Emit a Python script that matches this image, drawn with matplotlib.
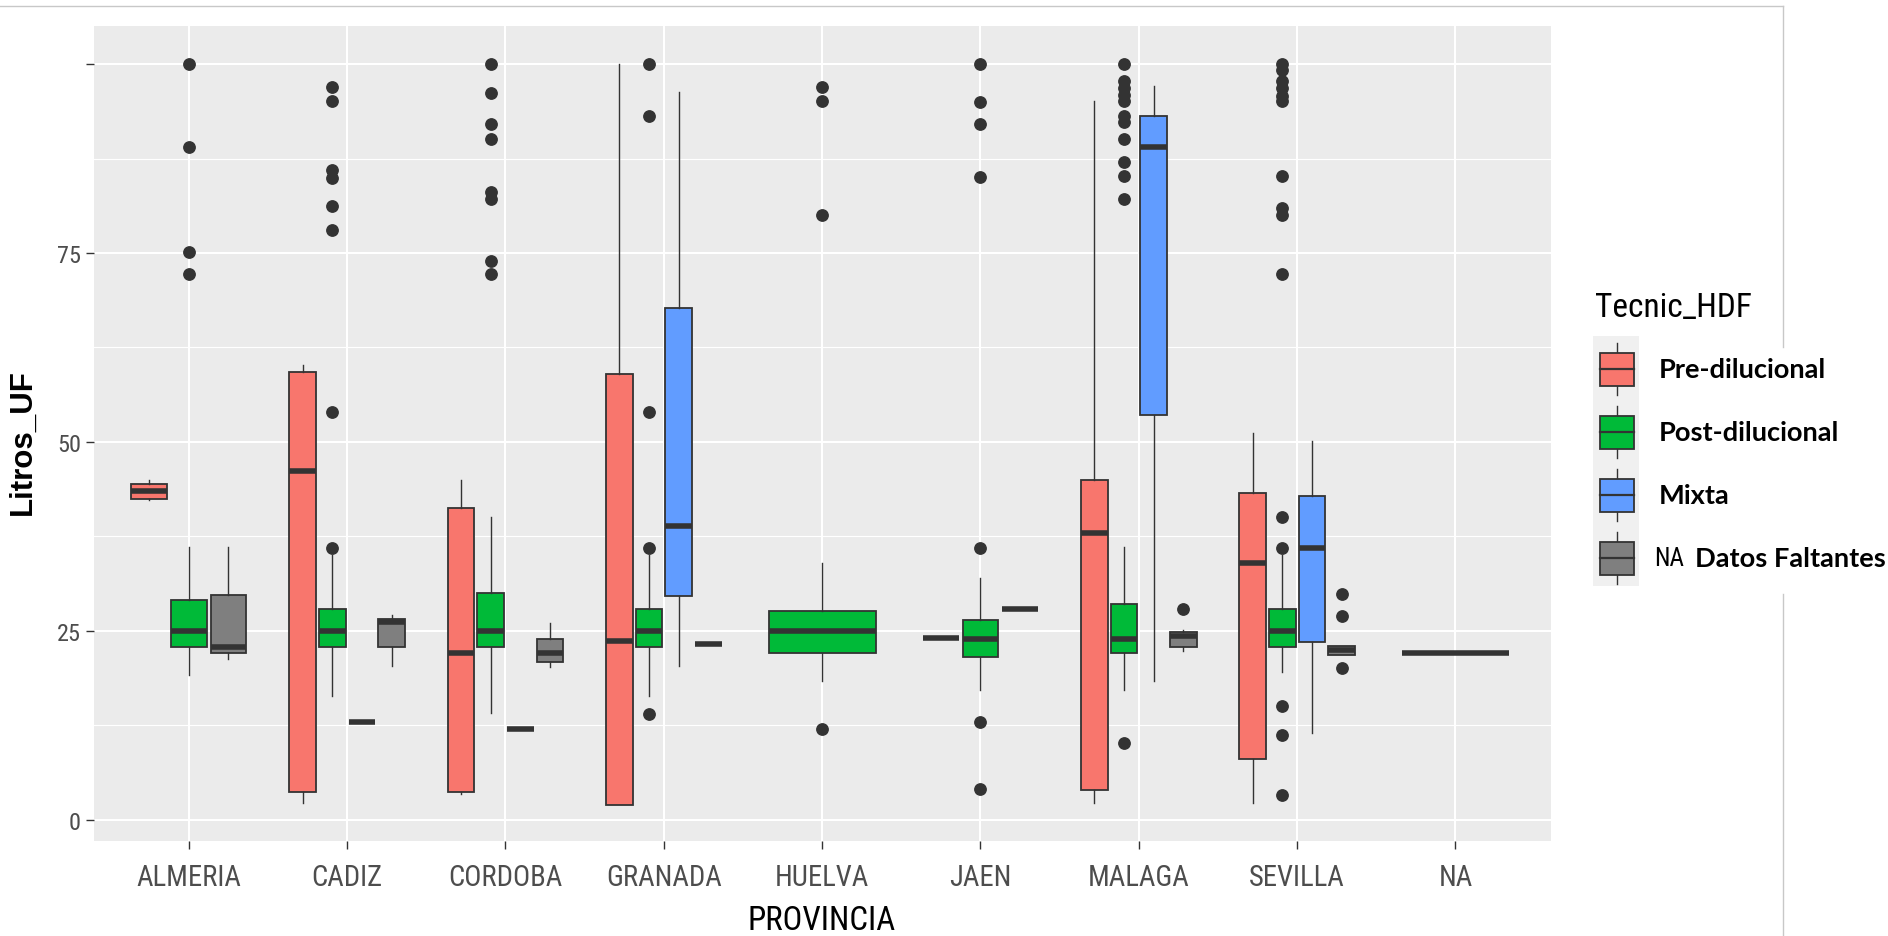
import matplotlib
matplotlib.use("Agg")
import matplotlib.pyplot as plt
from matplotlib import font_manager as fm
from matplotlib.font_manager import FontProperties
from matplotlib.textpath import TextToPath
from matplotlib.patches import Rectangle
from matplotlib.lines import Line2D

# ---------------- data ----------------
provincias = ["ALMERIA", "CADIZ", "CORDOBA", "GRANADA", "HUELVA",
              "JAEN", "MALAGA", "SEVILLA", "NA"]
tecnicas = ["Pre-dilucional", "Post-dilucional", "Mixta", "NA"]
tec_colors = ["#F8766D", "#00BA38", "#619CFF", "#7F7F7F"]

box_prov = ["ALMERIA", "ALMERIA", "ALMERIA",
            "CADIZ", "CADIZ", "CADIZ", "CADIZ",
            "CORDOBA", "CORDOBA", "CORDOBA", "CORDOBA",
            "GRANADA", "GRANADA", "GRANADA", "GRANADA",
            "HUELVA",
            "JAEN", "JAEN", "JAEN",
            "MALAGA", "MALAGA", "MALAGA", "MALAGA",
            "SEVILLA", "SEVILLA", "SEVILLA", "SEVILLA",
            "NA"]
box_tec = ["Pre-dilucional", "Post-dilucional", "NA",
           "Pre-dilucional", "Post-dilucional", "Mixta", "NA",
           "Pre-dilucional", "Post-dilucional", "Mixta", "NA",
           "Pre-dilucional", "Post-dilucional", "Mixta", "NA",
           "Post-dilucional",
           "Pre-dilucional", "Post-dilucional", "NA",
           "Pre-dilucional", "Post-dilucional", "Mixta", "NA",
           "Pre-dilucional", "Post-dilucional", "Mixta", "NA",
           "NA"]
box_whislo = [42.3, 19.1, 21.2,
              2.2, 16.3, 12.9, 20.3,
              3.4, 14.1, 12.0, 20.2,
              1.9, 16.3, 20.3, 23.2,
              18.3,
              24.0, 17.2, 27.9,
              2.2, 17.2, 18.3, 22.3,
              2.2, 19.6, 11.4, 21.8,
              22.1]
box_q1 = [42.5, 22.9, 22.1,
          3.7, 22.9, 12.9, 22.9,
          3.7, 22.9, 12.0, 20.9,
          1.9, 22.9, 29.6, 23.2,
          22.1,
          24.0, 21.5, 27.9,
          3.95, 22.1, 53.6, 22.9,
          8.0, 22.9, 23.5, 21.8,
          22.1]
box_med = [43.5, 25.0, 22.9,
           46.1, 25.0, 12.9, 26.1,
           22.1, 25.0, 12.0, 22.1,
           23.6, 25.0, 38.8, 23.2,
           25.0,
           24.0, 23.9, 27.9,
           38.0, 23.9, 89.0, 24.3,
           33.9, 25.0, 36.0, 22.4,
           22.1]
box_q3 = [44.4, 29.1, 29.7,
          59.3, 27.9, 12.9, 26.5,
          41.2, 30.0, 12.0, 23.9,
          59.0, 27.9, 67.7, 23.2,
          27.6,
          24.0, 26.4, 27.9,
          44.9, 28.5, 93.1, 24.8,
          43.2, 27.9, 42.9, 23.0,
          22.1]
box_whishi = [44.9, 36.1, 36.1,
              60.2, 35.0, 12.9, 27.1,
              45.0, 40.1, 12.0, 26.0,
              100.0, 35.0, 96.3, 23.2,
              33.9,
              24.0, 32.0, 27.9,
              95.1, 36.1, 97.1, 25.1,
              51.2, 35.0, 50.1, 23.0,
              22.1]
box_fliers = [[], [100.0, 89.0, 75.2, 72.2], [],
              [], [97.0, 95.1, 86.0, 85.0, 81.2, 78.0, 54.0, 36.0], [], [],
              [], [100.0, 96.2, 92.1, 90.1, 83.1, 82.1, 74.0, 72.2], [], [],
              [], [100.0, 93.1, 54.0, 36.0, 14.0], [], [],
              [97.0, 95.1, 80.0, 12.0],
              [], [100.0, 95.0, 92.1, 85.1, 36.0, 12.9, 4.0], [],
              [], [100.0, 97.8, 96.8, 95.9, 95.1, 93.2, 92.3, 90.1, 87.0, 85.2, 82.1, 10.1],
              [], [27.9],
              [], [100.0, 99.3, 97.8, 96.8, 95.8, 95.1, 85.2, 81.0, 80.0, 72.2,
                   40.1, 36.0, 15.0, 11.2, 3.2], [], [29.9, 27.0, 20.1],
              []]

y_ticks = [0, 25, 50, 75, 100]
y_ticklabels = ["0", "25", "50", "75", ""]

# ---------------- fonts ----------------
def pick_narrow():
    prefs = ["LiberationSansNarrow-Regular", "RobotoCondensed-Regular",
             "OpenSans_Condensed-Regular", "OpenSansCondensed",
             "NotoSans-Condensed", "DejaVuSansCondensed.", "Condensed", "Narrow"]
    files = [f.fname for f in fm.fontManager.ttflist]
    for p in prefs:
        for fn in files:
            base = fn.split("/")[-1]
            if p in base and "Bold" not in base and "Italic" not in base \
                    and "Oblique" not in base and "Light" not in base:
                return FontProperties(fname=fn)
    return FontProperties(family="Liberation Sans")

def has_font(name):
    try:
        fm.findfont(FontProperties(family=name), fallback_to_default=False)
        return True
    except Exception:
        return False

_t2p = TextToPath()

def fit(prop, text, target_px):
    p = prop.copy()
    p.set_size(10)
    w, h, d = _t2p.get_text_width_height_descent(text, p, ismath=False)
    return 10 * target_px / (w * 100 / 72)

def sized(prop, size):
    p = prop.copy()
    p.set_size(size)
    return p

NARROW = pick_narrow()
BOLDF = FontProperties(family="Lato" if has_font("Lato") else "DejaVu Sans", weight="bold")
ARIALB = FontProperties(family="Liberation Sans", weight="bold")

fs_xtick = fit(NARROW, "ALMERIACORDOBA", 219)
fs_ytick = fit(NARROW, "75", 24)
fs_xlab = fit(NARROW, "PROVINCIA", 148)
fs_title = fit(NARROW, "Tecnic_HDF", 157)
fs_na = fit(NARROW, "NA", 30)
fs_ylab = fit(ARIALB, "Litros_UF", 146)
fs_leg = fit(BOLDF, "Pre-dilucional", 168)

# ---------------- figure ----------------
W, H = 1888, 937
fig = plt.figure(figsize=(W / 100, H / 100), dpi=100)
fig.patch.set_facecolor("white")

pl, pr, pt, pb = 93.75, 1550.5, 26.7, 841.7
ax = fig.add_axes([pl / W, 1 - pb / H, (pr - pl) / W, (pb - pt) / H])
ax.set_facecolor("#EBEBEB")

stats, positions, widths, colors = [], [], [], []
for i, prov in enumerate(provincias):
    idx = [k for k in range(len(box_prov)) if box_prov[k] == prov]
    n = len(idx)
    slot = 0.75 / n
    for j, k in enumerate(idx):
        stats.append(dict(med=box_med[k], q1=box_q1[k], q3=box_q3[k],
                          whislo=box_whislo[k], whishi=box_whishi[k],
                          fliers=box_fliers[k]))
        positions.append(i - 0.375 + (j + 0.5) * slot)
        widths.append(slot * 0.9)
        colors.append(tec_colors[tecnicas.index(box_tec[k])])

ec = "#333333"
bp = ax.bxp(stats, positions=positions, widths=widths, patch_artist=True,
            showcaps=False, manage_ticks=False,
            boxprops=dict(edgecolor=ec, linewidth=1.3),
            medianprops=dict(color=ec, linewidth=4.0, solid_capstyle="butt"),
            whiskerprops=dict(color=ec, linewidth=1.0),
            flierprops=dict(marker="o", markerfacecolor=ec, markeredgecolor=ec,
                            markersize=8.2, linestyle="none"))
for patch, c in zip(bp["boxes"], colors):
    patch.set_facecolor(c)
for ln in bp["medians"]:
    ln.set_zorder(3)

ax.set_xlim(-0.6, len(provincias) - 0.4)
ax.set_ylim(-2.8, 105.1)

ax.set_xticks(range(len(provincias)))
ax.set_xticklabels(provincias, fontproperties=sized(NARROW, fs_xtick), color="#4D4D4D")
ax.set_yticks(y_ticks)
ax.set_yticklabels(y_ticklabels, fontproperties=sized(NARROW, fs_ytick), color="#4D4D4D")
ax.set_yticks([12.5, 37.5, 62.5, 87.5], minor=True)
ax.tick_params(axis="both", which="major", length=5.5, width=1.0, color=ec)
ax.tick_params(axis="y", which="minor", length=0)
ax.tick_params(axis="x", which="major", pad=10)
ax.tick_params(axis="y", which="major", pad=4)

ax.set_axisbelow(True)
ax.grid(which="major", axis="both", color="white", linewidth=1.5)
ax.grid(which="minor", axis="y", color="white", linewidth=0.8)
for s in ax.spines.values():
    s.set_visible(False)

# fine-tune tick label placement to match the reference
fig.canvas.draw()
r = fig.canvas.get_renderer()
bb = ax.get_xticklabels()[0].get_window_extent(r)
cy = (bb.y0 + bb.y1) / 2
target = H - 878
ax.tick_params(axis="x", which="major", pad=10 + (cy - target) * 72 / 100)
bb = ax.get_yticklabels()[1].get_window_extent(r)
ax.tick_params(axis="y", which="major", pad=max(0.5, 4 + (bb.x1 - 81) * 72 / 100))

fig.text(22.5 / W, 1 - 442 / H, "Litros_UF", rotation=90, ha="center", va="center",
         fontproperties=sized(ARIALB, fs_ylab), color="black")
fig.text(822 / W, 1 - 921 / H, "PROVINCIA", ha="center", va="center",
         fontproperties=sized(NARROW, fs_xlab), color="black")

# ---------------- legend (manual, pixel coords) ----------------
lax = fig.add_axes([0, 0, 1, 1])
lax.set_xlim(0, W)
lax.set_ylim(H, 0)
lax.axis("off")
lax.patch.set_alpha(0)

lax.text(1595, 317, "Tecnic_HDF", fontproperties=sized(NARROW, fs_title),
         ha="left", va="baseline", color="black")
lax.add_patch(Rectangle((1592.5, 337), 46, 250, facecolor="#F0F0F0",
                        edgecolor="none"))
key_cy0, key_dy = 370, 63
for i, (lab, c) in enumerate(zip(tecnicas, tec_colors)):
    kcy = key_cy0 + key_dy * i
    lax.add_line(Line2D([1617, 1617], [kcy - 26, kcy + 26], color=ec, lw=1.0))
    lax.add_patch(Rectangle((1600, kcy - 16.5), 34, 33, facecolor=c,
                            edgecolor=ec, lw=1.3, zorder=3))
    lax.add_line(Line2D([1600, 1634], [kcy, kcy], color=ec, lw=1.6, zorder=4))
    if lab == "NA":
        lax.text(1654, kcy, "NA", fontproperties=sized(NARROW, fs_na), ha="left",
                 va="center", color="black")
        lax.text(1695, kcy, "Datos Faltantes", fontproperties=sized(BOLDF, fs_leg),
                 ha="left", va="center", color="black")
    else:
        lax.text(1659, kcy, lab, fontproperties=sized(BOLDF, fs_leg),
                 ha="left", va="center", color="black")

# thin frame lines from the original screenshot
lax.add_line(Line2D([0, 1783], [7, 7], color="#C8C8C8", lw=1.0))
lax.add_line(Line2D([1783, 1783], [7, 348], color="#C8C8C8", lw=1.0))
lax.add_line(Line2D([1783, 1783], [595, H], color="#C8C8C8", lw=1.0))

fig.savefig("out.png", dpi=100)
